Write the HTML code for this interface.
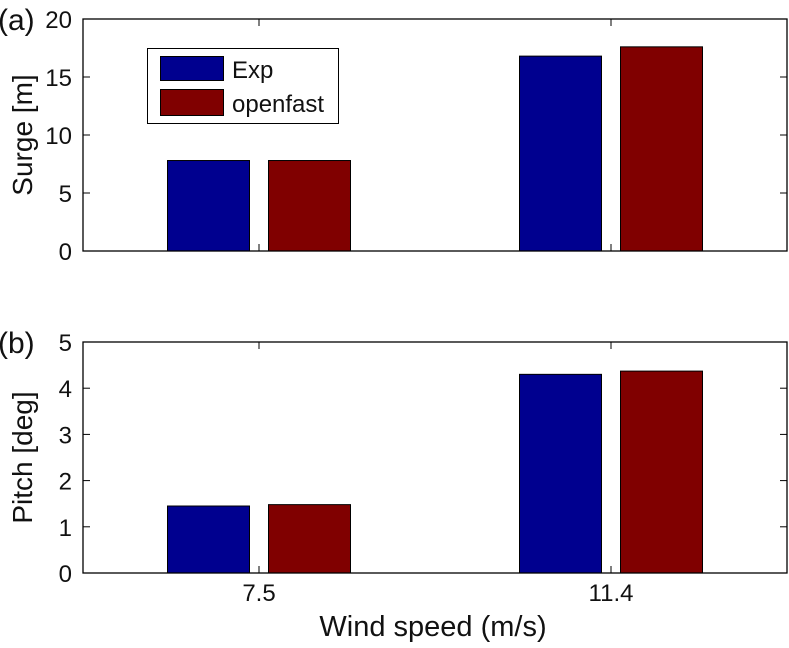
<!DOCTYPE html>
<html><head><meta charset="utf-8"><style>
body{margin:0;background:#fff;}
svg text{font-family:"Liberation Sans",Arial,sans-serif;fill:#111;}
</style></head><body>
<svg id="c" width="789" height="643" xmlns="http://www.w3.org/2000/svg"></svg>
<script>
const categories=["7.5","11.4"];
const surgeExp=[7.8,16.8];
const surgeOpenfast=[7.8,17.6];
const pitchExp=[1.45,4.3];
const pitchOpenfast=[1.48,4.37];
const surgeTicks=[0,5,10,15,20];
const pitchTicks=[0,1,2,3,4,5];
const NS="http://www.w3.org/2000/svg";
const svg=document.getElementById('c');
function mk(t,a,p){const e=document.createElementNS(NS,t);for(const k in a)e.setAttribute(k,a[k]);(p||svg).appendChild(e);return e;}
const L=83,R=787;
function xs(i){return L+(R-L)*(i+0.5)/2;}
function panel(name,top,bot,ymax,ticks,s1,s2,ylabel,tag){
  const g=mk('g',{});
  
  
  const ys=v=>bot-(bot-top)*v/ymax;
  const bw=82, off=50.5;
  categories.forEach((c,i)=>{
    const b1=mk('rect',{x:xs(i)-off-bw/2,y:ys(s1[i]),width:bw,height:bot-ys(s1[i]),fill:'#00008f',stroke:'#000','stroke-width':1},g);
    
    
    const b2=mk('rect',{x:xs(i)+off-bw/2,y:ys(s2[i]),width:bw,height:bot-ys(s2[i]),fill:'#800000',stroke:'#000','stroke-width':1},g);
    
    
    mk('line',{x1:xs(i),x2:xs(i),y1:bot,y2:bot-7,stroke:'#000'},g);
    mk('line',{x1:xs(i),x2:xs(i),y1:top,y2:top+7,stroke:'#000'},g);
  });
  const fr=mk('rect',{x:L,y:top,width:R-L,height:bot-top,fill:'none',stroke:'#000','stroke-width':1.3},g);
  
  
  ticks.forEach(t=>{
    const y=ys(t);
    mk('line',{x1:L,x2:L+7,y1:y,y2:y,stroke:'#000'},g);
    mk('line',{x1:R,x2:R-7,y1:y,y2:y,stroke:'#000'},g);
    const tx=mk('text',{x:L-11,y:y+9,'text-anchor':'end','font-size':24},g);
    tx.textContent=t;
    
    
  });
  const yl=mk('text',{x:0,y:0,'text-anchor':'middle','font-size':28,transform:`translate(32,${(top+bot)/2}) rotate(-90)`},g);
  yl.textContent=ylabel;
  
  
  const tg=mk('text',{x:-2,y:top+11,'font-size':30},g);
  tg.textContent=tag;
  
  
}
panel('surge-panel',19,251,20,surgeTicks,surgeExp,surgeOpenfast,'Surge [m]','(a)');
panel('pitch-panel',342,573,5,pitchTicks,pitchExp,pitchOpenfast,'Pitch [deg]','(b)');
categories.forEach((c,i)=>{
  const t=mk('text',{x:xs(i),y:601,'text-anchor':'middle','font-size':24});
  t.textContent=c;
  
  
});
const xt=mk('text',{x:433,y:636,'text-anchor':'middle','font-size':29});
xt.textContent='Wind speed (m/s)';


const lg=mk('g',{});


mk('rect',{x:147.5,y:48.5,width:191,height:75,fill:'#fff',stroke:'#000'},lg);
mk('rect',{x:160.5,y:56.5,width:63,height:24,fill:'#00008f',stroke:'#000'},lg);
mk('rect',{x:160.5,y:89.5,width:63,height:26,fill:'#800000',stroke:'#000'},lg);
const l1=mk('text',{x:232,y:78,'font-size':24},lg);l1.textContent='Exp';


const l2=mk('text',{x:232,y:112,'font-size':24},lg);l2.textContent='openfast';


</script>
</body></html>
